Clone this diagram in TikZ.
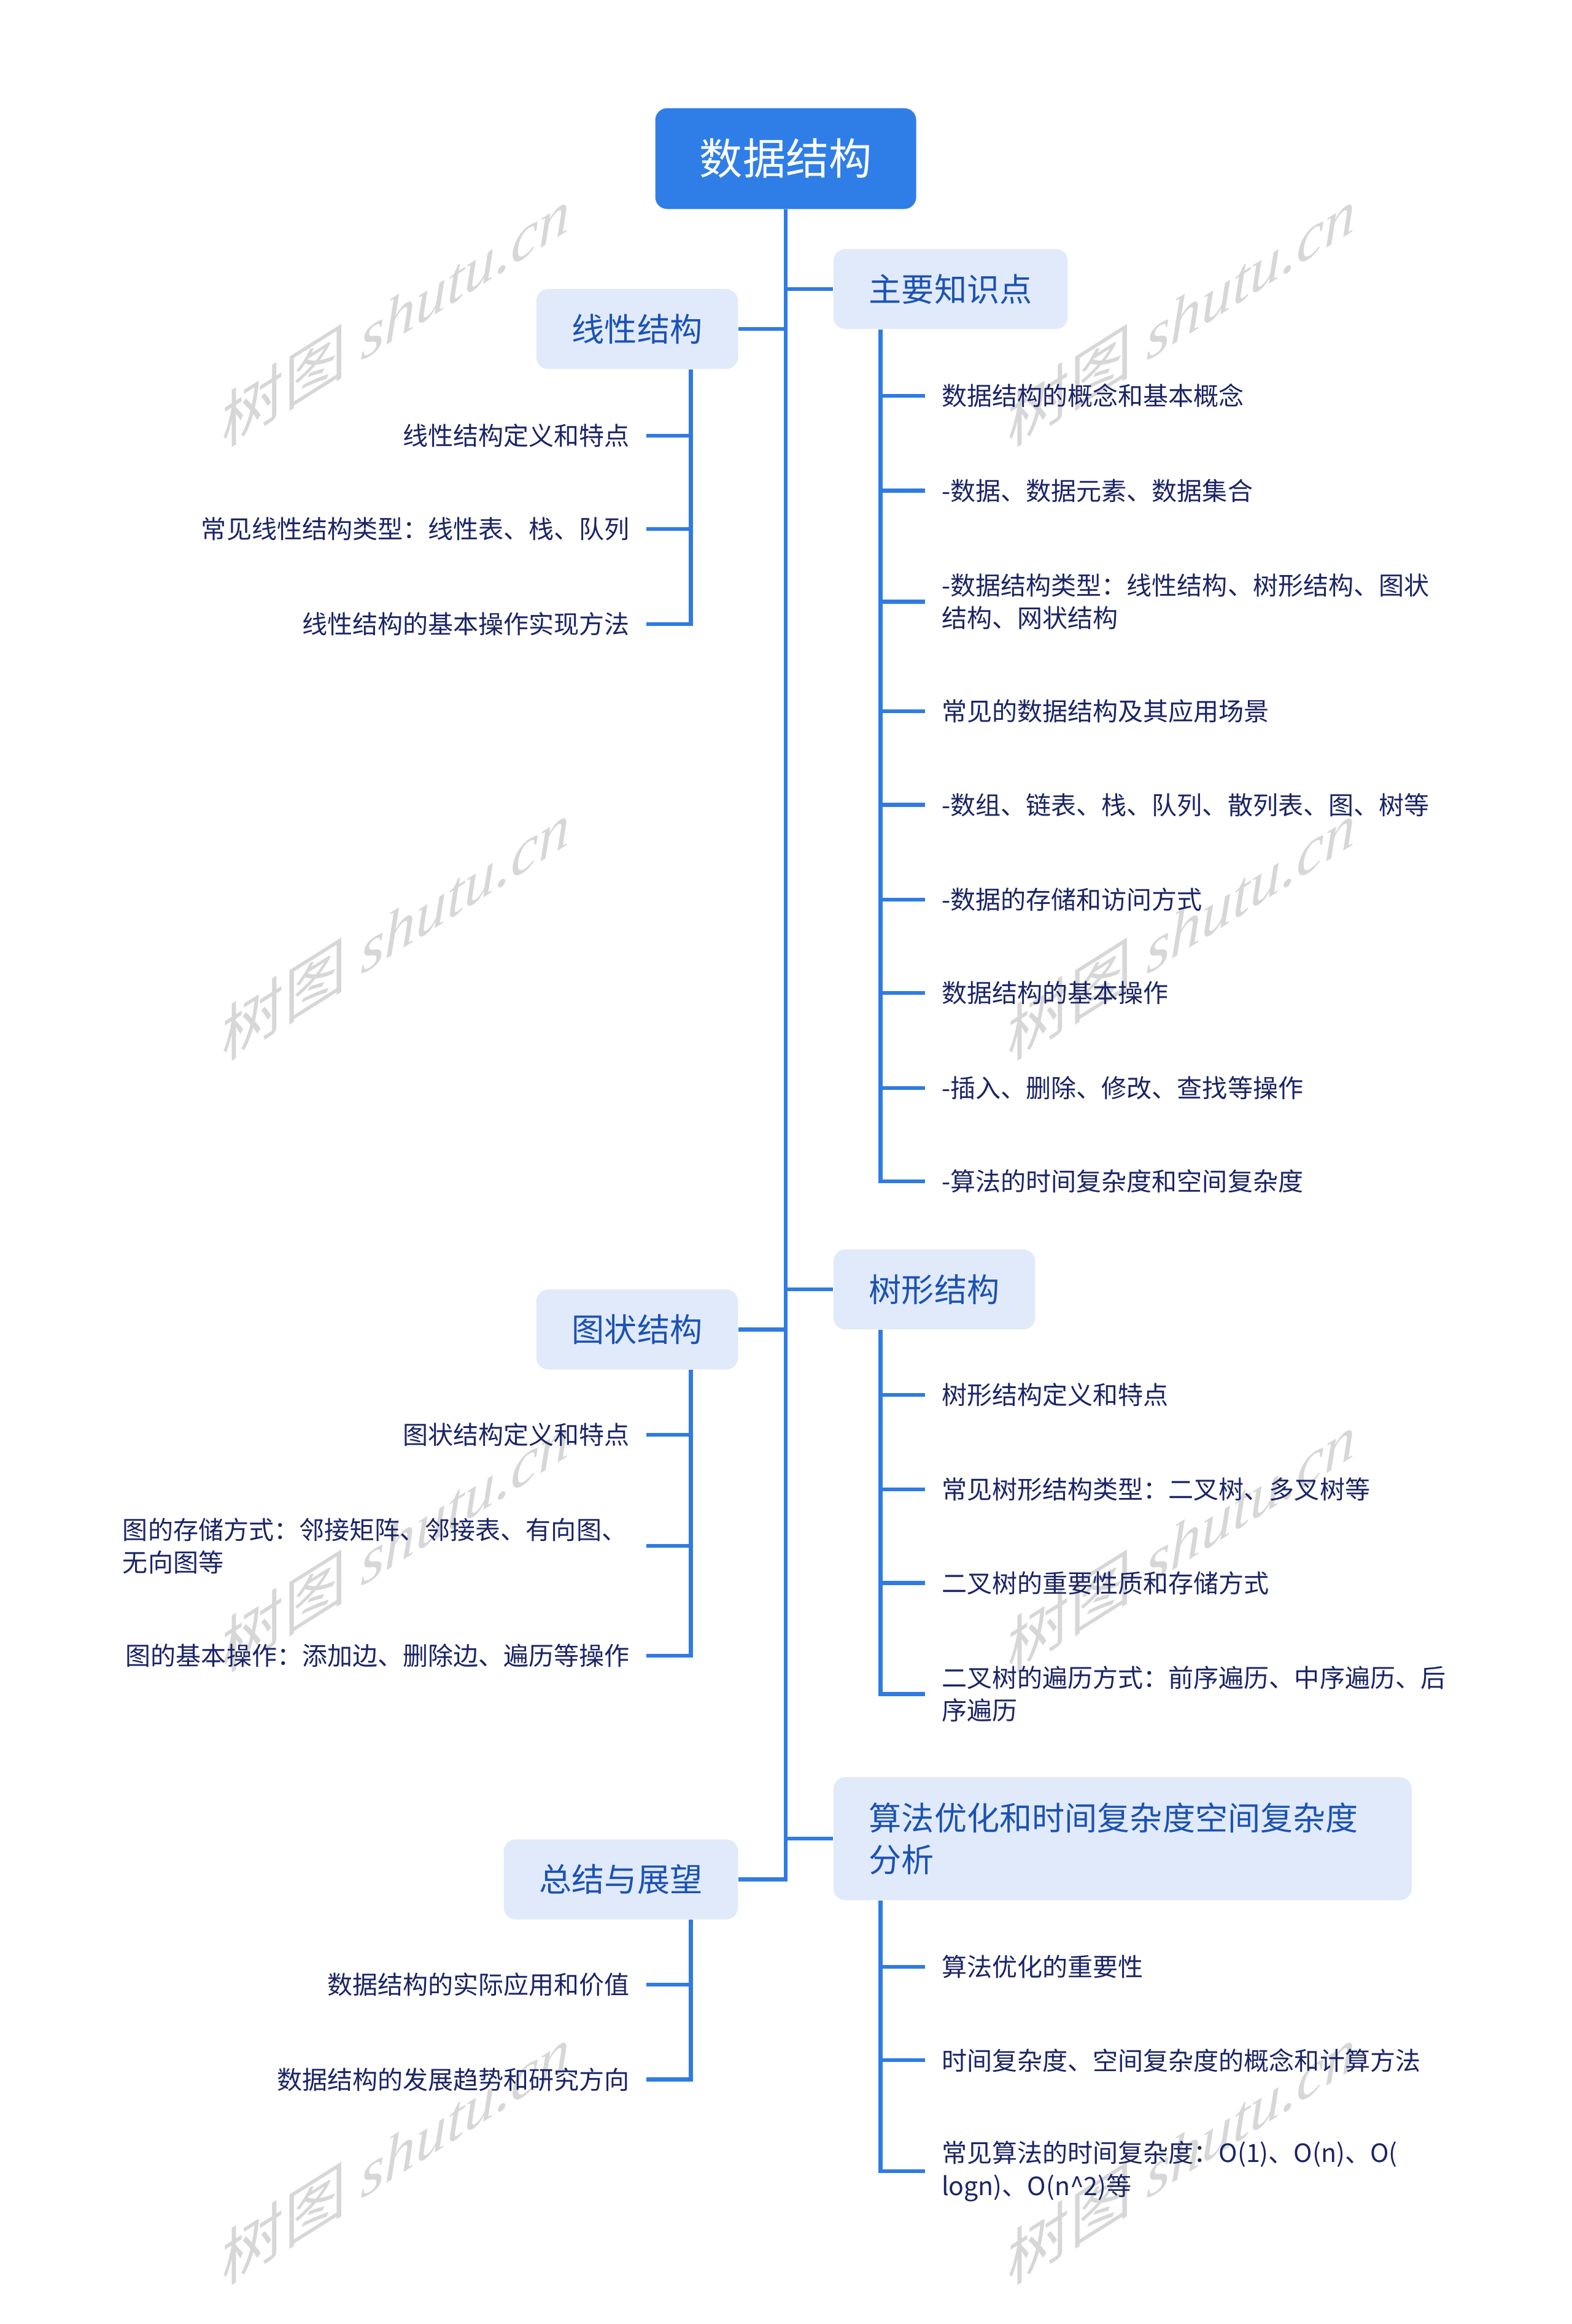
\documentclass[tikz,border=0pt]{standalone}
\usepackage{fontspec}
\setmainfont{Noto Sans CJK SC}
\newfontfamily\wmcjk{Noto Sans CJK SC}
\newfontfamily\wmlat{Liberation Serif}
\definecolor{rootblue}{HTML}{2F7EE7}
\definecolor{lineblue}{HTML}{2F7BE3}
\definecolor{lonefill}{HTML}{E1EAFB}
\definecolor{lonetext}{HTML}{1B52B3}
\definecolor{leaftext}{HTML}{1B2466}
\definecolor{wmgray}{HTML}{D7D7D7}
\begin{document}
\begin{tikzpicture}[x=1pt,y=-1pt,
  rootbox/.style={fill=rootblue, rounded corners=8pt, text=white,
    font=\fontsize{29}{35}\selectfont, minimum width=176pt, minimum height=68pt, inner sep=0pt},
  lonebox/.style={fill=lonefill, rounded corners=8pt, text=lonetext,
    font=\fontsize{22}{28}\selectfont, minimum height=54pt, inner ysep=0pt, inner xsep=24pt},
  leaf/.style={text=leaftext, font=\fontsize{17}{22}\selectfont, inner sep=0pt, align=left},
  conn/.style={draw=lineblue, line width=2.6pt, line join=miter},
  wm/.style={text=wmgray, yslant=0.63, inner sep=0pt}
]
\useasboundingbox (0,0) rectangle (1060,1568);

% watermarks
\foreach \wx/\wy in {267/213, 797/213, 267/627, 797/627, 267/1040, 797/1040, 267/1453, 797/1453}{
  \node[wm] at (\wx,\wy) {\fontsize{42}{42}\selectfont{\wmcjk 树图} {\wmlat\itshape shutu.cn}};
}

% root
\node[rootbox] (root) at (530,107) {数据结构};

% level 1
\node[lonebox, anchor=west] (zy) at (562,195) {主要知识点};
\node[lonebox, anchor=east] (xx) at (498,222) {线性结构};
\node[lonebox, anchor=west] (sx) at (562,870) {树形结构};
\node[lonebox, anchor=east] (tz) at (498,897) {图状结构};
\node[lonebox, anchor=west, text width=342pt, align=left, minimum height=83pt] (sf) at (562,1240.5) {算法优化和时间复杂度空间复杂度\\分析};
\node[lonebox, anchor=east] (zj) at (498,1268) {总结与展望};

% trunk
\foreach \n in {zy,sx,sf}{ \draw[conn] (root.south) |- (\n.west); }
\foreach \n in {xx,tz,zj}{ \draw[conn] (root.south) |- (\n.east); }

% 主要知识点 children
\node[leaf, anchor=west] (a1) at (635,267) {数据结构的概念和基本概念};
\node[leaf, anchor=west] (a2) at (635,331) {-数据、数据元素、数据集合};
\node[leaf, anchor=west] (a3) at (635,406) {-数据结构类型：线性结构、树形结构、图状\\结构、网状结构};
\node[leaf, anchor=west] (a4) at (635,480) {常见的数据结构及其应用场景};
\node[leaf, anchor=west] (a5) at (635,543) {-数组、链表、栈、队列、散列表、图、树等};
\node[leaf, anchor=west] (a6) at (635,607) {-数据的存储和访问方式};
\node[leaf, anchor=west] (a7) at (635,670) {数据结构的基本操作};
\node[leaf, anchor=west] (a8) at (635,734) {-插入、删除、修改、查找等操作};
\node[leaf, anchor=west] (a9) at (635,797) {-算法的时间复杂度和空间复杂度};
\foreach \n in {a1,a2,a3,a4,a5,a6,a7,a8,a9}{
  \draw[conn] ([xshift=32pt]zy.south west) |- ([xshift=-11pt]\n.west);
}

% 树形结构 children
\node[leaf, anchor=west] (b1) at (635,941) {树形结构定义和特点};
\node[leaf, anchor=west] (b2) at (635,1005) {常见树形结构类型：二叉树、多叉树等};
\node[leaf, anchor=west] (b3) at (635,1068) {二叉树的重要性质和存储方式};
\node[leaf, anchor=west] (b4) at (635,1143) {二叉树的遍历方式：前序遍历、中序遍历、后\\序遍历};
\foreach \n in {b1,b2,b3,b4}{
  \draw[conn] ([xshift=32pt]sx.south west) |- ([xshift=-11pt]\n.west);
}

% 算法优化 children
\node[leaf, anchor=west] (c1) at (635,1327) {算法优化的重要性};
\node[leaf, anchor=west] (c2) at (635,1390) {时间复杂度、空间复杂度的概念和计算方法};
\node[leaf, anchor=west] (c3) at (635,1465) {常见算法的时间复杂度：O(1)、O(n)、O(\\logn)、O(n\textasciicircum2)等};
\foreach \n in {c1,c2,c3}{
  \draw[conn] ([xshift=32pt]sf.south west) |- ([xshift=-11pt]\n.west);
}

% 线性结构 children
\node[leaf, anchor=east] (d1) at (425,294) {线性结构定义和特点};
\node[leaf, anchor=east] (d2) at (425,357) {常见线性结构类型：线性表、栈、队列};
\node[leaf, anchor=east] (d3) at (425,421) {线性结构的基本操作实现方法};
\foreach \n in {d1,d2,d3}{
  \draw[conn] ([xshift=-32pt]xx.south east) |- ([xshift=11pt]\n.east);
}

% 图状结构 children
\node[leaf, anchor=east] (e1) at (425,968) {图状结构定义和特点};
\node[leaf, anchor=east, text width=342pt] (e2) at (425,1043) {图的存储方式：邻接矩阵、邻接表、有向图、\\无向图等};
\node[leaf, anchor=east] (e3) at (425,1117) {图的基本操作：添加边、删除边、遍历等操作};
\foreach \n in {e1,e2,e3}{
  \draw[conn] ([xshift=-32pt]tz.south east) |- ([xshift=11pt]\n.east);
}

% 总结与展望 children
\node[leaf, anchor=east] (f1) at (425,1339) {数据结构的实际应用和价值};
\node[leaf, anchor=east] (f2) at (425,1403) {数据结构的发展趋势和研究方向};
\foreach \n in {f1,f2}{
  \draw[conn] ([xshift=-32pt]zj.south east) |- ([xshift=11pt]\n.east);
}
\end{tikzpicture}
\end{document}
